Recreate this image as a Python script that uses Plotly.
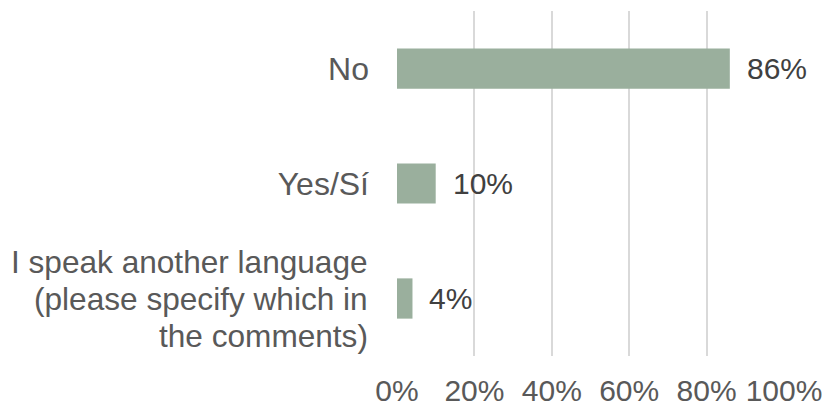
import plotly.graph_objects as go

# Survey responses
categories = ["No", "Yes/Sí", "I speak another language (please specify which in the comments)"]
short_labels = ["No", "Yes/Sí", ""]
long_label_lines = ["I speak another language", "(please specify which in", "the comments)"]
shares = [86, 10, 4]
x_ticks = [0, 20, 40, 60, 80, 100]
x_tick_labels = ["0%", "20%", "40%", "60%", "80%", "100%"]

FONT = "Liberation Sans, Arial, sans-serif"
BAR_COLOR = "#9AAF9D"
LABEL_COLOR = "#595959"

fig = go.Figure(
    go.Bar(
        x=shares,
        y=categories,
        orientation="h",
        marker=dict(color=BAR_COLOR, line=dict(width=0)),
        hoverinfo="skip",
    )
)

# Value labels just to the right of each bar end
for cat, val in zip(categories, shares):
    fig.add_annotation(
        x=val, y=cat, text=f"{val}%",
        xanchor="left", yanchor="middle", xshift=15,
        showarrow=False,
        font=dict(family=FONT, size=30, color="#404040"),
    )

# Three-line category label, set with tighter line spacing than <br> gives
line_gap = 37
for i, line in enumerate(long_label_lines):
    fig.add_annotation(
        xref="paper", x=0, y=categories[2],
        text=line, xanchor="right", yanchor="middle",
        xshift=-27, yshift=(1 - i) * line_gap,
        showarrow=False,
        font=dict(family=FONT, size=31.6, color=LABEL_COLOR),
    )

fig.update_layout(
    width=827,
    height=408,
    margin=dict(l=397, r=43, t=11, b=52, autoexpand=False),
    paper_bgcolor="white",
    plot_bgcolor="white",
    bargap=0.65,
    showlegend=False,
    font=dict(family=FONT, size=30, color=LABEL_COLOR),
)

fig.update_xaxes(
    range=[0, 100],
    tickvals=x_ticks,
    ticktext=x_tick_labels,
    showgrid=True,
    gridcolor="#D9D9D9",
    gridwidth=1.5,
    zeroline=False,
    showline=False,
    automargin=False,
    ticklabelstandoff=14,
    tickfont=dict(family=FONT, size=30, color=LABEL_COLOR),
    fixedrange=True,
)

fig.update_yaxes(
    categoryorder="array",
    categoryarray=categories,
    autorange="reversed",
    tickvals=categories,
    ticktext=short_labels,
    showgrid=False,
    zeroline=False,
    showline=False,
    automargin=False,
    ticklabelstandoff=27,
    tickfont=dict(family=FONT, size=32, color=LABEL_COLOR),
    fixedrange=True,
)

fig.write_html("out.html", config={"displayModeBar": False})
